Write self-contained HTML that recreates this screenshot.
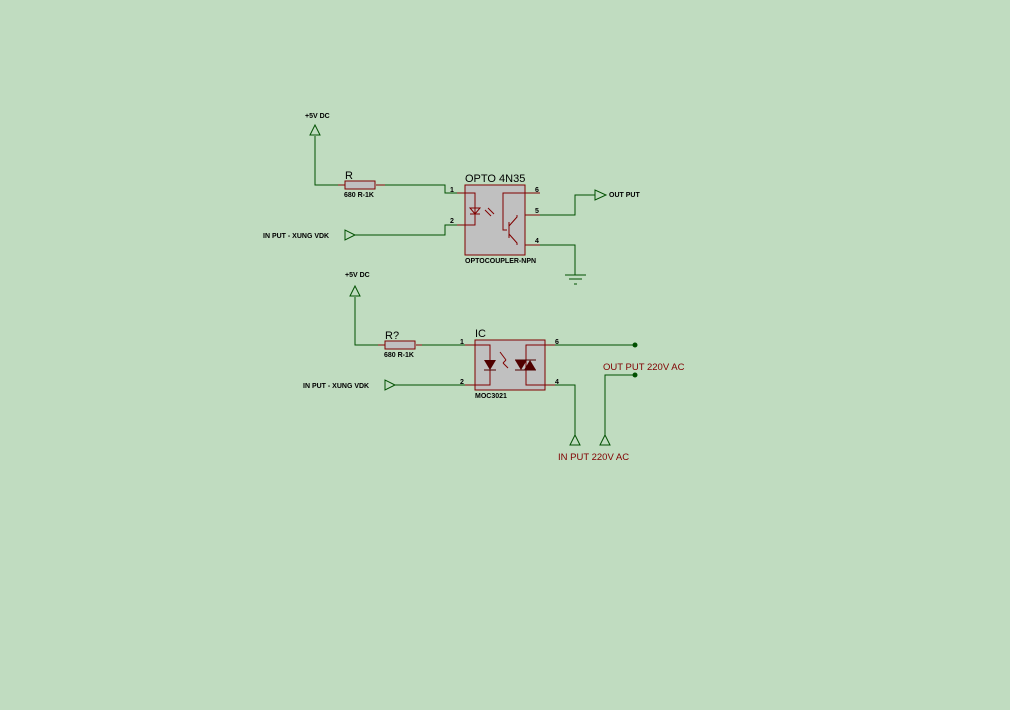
<!DOCTYPE html>
<html><head><style>body{margin:0;background:#c0dcc0}svg{display:block}text{font-family:"Liberation Sans",sans-serif}</style></head><body>
<svg width="1010" height="710" xmlns="http://www.w3.org/2000/svg">
<rect width="1010" height="710" fill="#c0dcc0"/>
<g fill="none" stroke="#005000" stroke-width="1">
<polyline points="315,136 315,185 338,185"/>
<polyline points="383,185 445,185 445,193 457,193"/>
<polyline points="355,235 445,235 445,225 457,225"/>
<polyline points="536,215 575,215 575,195 595,195"/>
<polyline points="536,245 575,245 575,275"/>
<line x1="565" y1="275" x2="586" y2="275"/><line x1="569" y1="279" x2="582" y2="279"/><line x1="574" y1="284" x2="577" y2="284"/>
<polygon points="310,135 320,135 315,125"/>
<polygon points="595,190 595,200 606,195"/>
<polygon points="345,230 345,240 355,235"/>
<polyline points="355,297 355,345 378,345"/>
<polyline points="422,345 465,345"/>
<polyline points="395,385 465,385"/>
<polyline points="555,345 635,345"/>
<polyline points="555,385 575,385 575,435"/>
<polyline points="635,375 605,375 605,435"/>
<polygon points="350,296 360,296 355,286"/>
<polygon points="385,380 385,390 395,385"/>
<polygon points="570,445 580,445 575,435"/>
<polygon points="600,445 610,445 605,435"/>
</g>
<circle cx="635" cy="345" r="2.5" fill="#005000"/><circle cx="635" cy="375" r="2.5" fill="#005000"/>
<g stroke="#800000" stroke-width="1" fill="none">
<line x1="338" y1="185" x2="345" y2="185"/><line x1="376" y1="185" x2="385" y2="185"/>
<line x1="457" y1="193" x2="465" y2="193"/><line x1="457" y1="225" x2="465" y2="225"/>
<line x1="525" y1="193" x2="540" y2="193"/><line x1="517" y1="215" x2="540" y2="215"/><line x1="517" y1="245" x2="540" y2="245"/>
<line x1="378" y1="345" x2="385" y2="345"/><line x1="416" y1="345" x2="422" y2="345"/>
<line x1="465" y1="345" x2="490" y2="345"/><line x1="465" y1="385" x2="490" y2="385"/>
<line x1="526" y1="345" x2="555" y2="345"/><line x1="526" y1="385" x2="555" y2="385"/>
</g>
<rect x="345" y="181" width="30" height="8" fill="#c0c0c0" stroke="#800000"/>
<rect x="465" y="185" width="60" height="70" fill="#c0c0c0" stroke="#800000"/>
<rect x="385" y="341" width="30" height="8" fill="#c0c0c0" stroke="#800000"/>
<rect x="475" y="340" width="70" height="50" fill="#c0c0c0" stroke="#800000"/>
<g stroke="#800000" fill="none">
<polyline points="465,193 475,193 475,225 465,225"/>
<polygon points="470,208 480,208 475,214"/><line x1="470" y1="214" x2="480" y2="214"/>
<line x1="485" y1="210" x2="491" y2="216"/><line x1="488" y1="208" x2="494" y2="214"/>
<polyline points="525,193 503,193 503,230 507,230"/>
<line x1="509" y1="222" x2="509" y2="238"/>
<polyline points="509,226 517,217 517,215"/><polyline points="509,234 517,243 517,245"/>
<polyline points="475,345 490,345 490,385 475,385"/>
<polyline points="545,345 526,345 526,385 545,385"/>
<line x1="500" y1="352" x2="506" y2="360"/><line x1="506" y1="360" x2="503" y2="363"/><line x1="503" y1="363" x2="508" y2="368"/>
</g>
<polygon points="484,360 496,360 490,370" fill="#500000"/><line x1="484" y1="370" x2="496" y2="370" stroke="#500000"/>
<polygon points="515,360 527,360 521,370" fill="#500000"/><polygon points="524,370 536,370 530,360" fill="#500000"/>
<line x1="515" y1="360" x2="536" y2="360" stroke="#500000"/><line x1="515" y1="370" x2="536" y2="370" stroke="#500000"/>
<g font-size="7" font-weight="bold" fill="#000">
<text x="305" y="118">+5V DC</text>
<text x="344" y="197">680 R-1K</text>
<text x="450" y="192">1</text><text x="450" y="223">2</text>
<text x="535" y="192">6</text><text x="535" y="213">5</text><text x="535" y="243">4</text>
<text x="465" y="263">OPTOCOUPLER-NPN</text>
<text x="609" y="197">OUT PUT</text>
<text x="263" y="238">IN PUT - XUNG VDK</text>
<text x="345" y="277">+5V DC</text>
<text x="384" y="357">680 R-1K</text>
<text x="460" y="344">1</text><text x="460" y="384">2</text>
<text x="555" y="344">6</text><text x="555" y="384">4</text>
<text x="475" y="398">MOC3021</text>
<text x="303" y="388">IN PUT - XUNG VDK</text>
</g>
<g font-size="11" fill="#000"><text x="345" y="179">R</text><text x="465" y="182">OPTO 4N35</text>
<text x="385" y="339">R?</text><text x="475" y="337">IC</text></g>
<g font-size="9.5" fill="#800000"><text x="603" y="370">OUT PUT 220V AC</text><text x="558" y="460">IN PUT 220V AC</text></g>
</svg>
</body></html>
